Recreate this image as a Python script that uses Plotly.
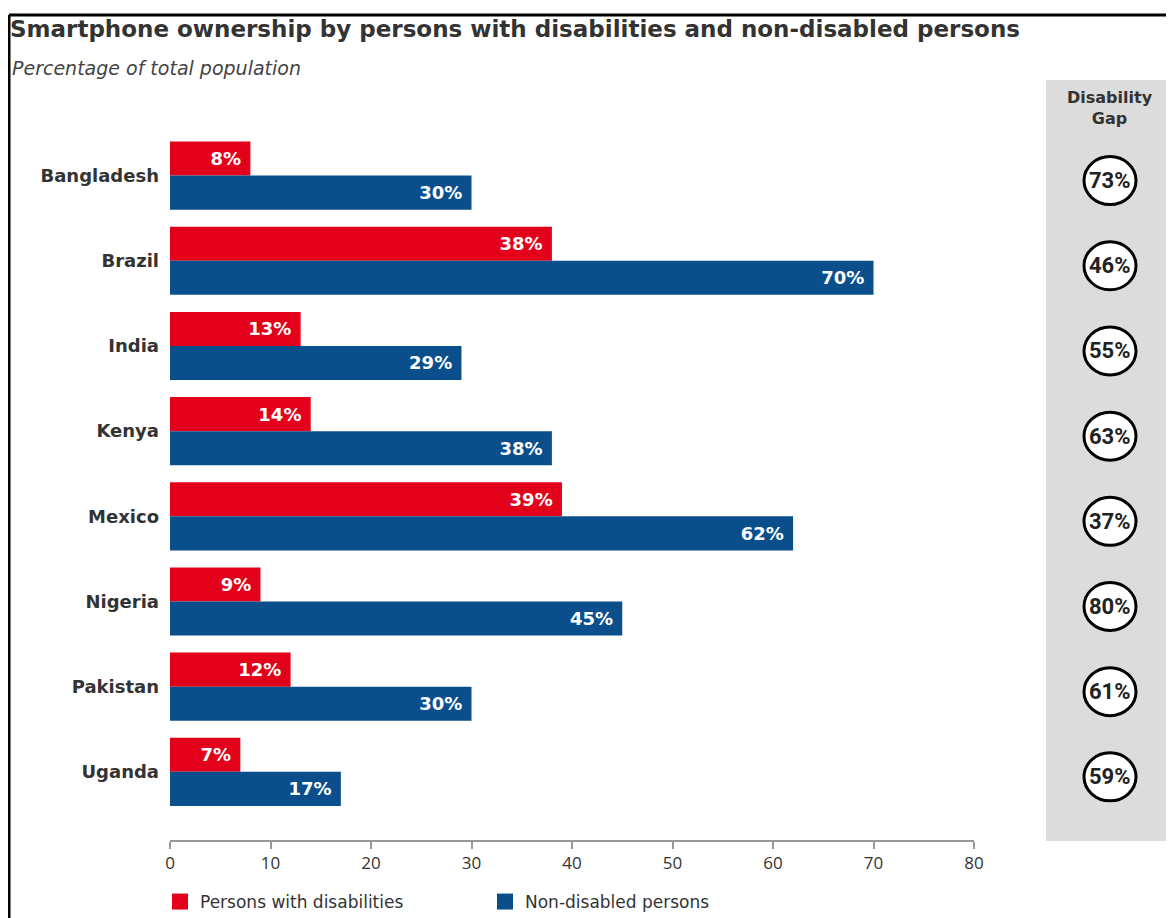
import plotly.graph_objects as go

countries = ["Bangladesh", "Brazil", "India", "Kenya", "Mexico", "Nigeria", "Pakistan", "Uganda"]
disabled = [8, 38, 13, 14, 39, 9, 12, 7]
non_disabled = [30, 70, 29, 38, 62, 45, 30, 17]
gap_labels = ["73%", "46%", "55%", "63%", "37%", "80%", "61%", "59%"]
x_ticks = [0, 10, 20, 30, 40, 50, 60, 70, 80]

# page body has an 8px margin; work in screen pixels
OFF = 8
W, H = 1174 - OFF, 918 - OFF
PL, PR, PT, PB = 170, 974, 133, 840          # plot area in screen pixels
ML, MR, MT, MB = PL - OFF, W - (PR - OFF), PT - OFF, H - (PB - OFF)
PW, PH = PR - PL, PB - PT


def px(x):
    return (x - PL) / PW


def py(y):
    return (PB - y) / PH


RED = "#e2001a"
BLUE = "#0a4f8c"
TXT = "#333333"
FONT = "DejaVu Sans"

fig = go.Figure()
fig.add_trace(go.Bar(
    y=countries, x=disabled, orientation="h", name="Persons with disabilities",
    marker=dict(color=RED, line=dict(width=0)), legendgroup="d", showlegend=False,
    texttemplate="%{x}%\u00a0", textposition="inside", insidetextanchor="end",
    textfont=dict(family=FONT, size=18, color="white", weight=700),
))
fig.add_trace(go.Bar(
    y=countries, x=non_disabled, orientation="h", name="Non-disabled persons",
    marker=dict(color=BLUE, line=dict(width=0)), legendgroup="n", showlegend=False,
    texttemplate="%{x}%\u00a0", textposition="inside", insidetextanchor="end",
    textfont=dict(family=FONT, size=18, color="white", weight=700),
))
# legend entries (large square swatches)
fig.add_trace(go.Scatter(x=[None], y=[None], mode="markers", name="Persons with disabilities",
                         legendgroup="d", marker=dict(symbol="square", size=24, color=RED)))
fig.add_trace(go.Scatter(x=[None], y=[None], mode="markers", name="Non-disabled persons",
                         legendgroup="n", marker=dict(symbol="square", size=24, color=BLUE)))

shapes = []
shapes.append(dict(type="rect", xref="paper", yref="paper",
                   x0=px(1046), x1=px(1180), y0=py(841), y1=py(80),
                   fillcolor="#dcdcdc", line=dict(width=0), layer="below"))
shapes.append(dict(type="line", xref="paper", yref="paper",
                   x0=px(9), x1=px(1180), y0=py(15), y1=py(15),
                   line=dict(color="black", width=3)))
shapes.append(dict(type="line", xref="paper", yref="paper",
                   x0=px(9), x1=px(9), y0=py(15), y1=py(925),
                   line=dict(color="black", width=3)))

unit = PH / 8.3
cx = px(1110)
rx = 26 / PW
ry = 24 / unit
off = 5 / unit
annotations = []
for i, lab in enumerate(gap_labels):
    shapes.append(dict(type="circle", xref="paper", yref="y",
                       x0=cx - rx, x1=cx + rx, y0=i + off - ry, y1=i + off + ry,
                       fillcolor="white", line=dict(color="black", width=3)))
    annotations.append(dict(xref="paper", yref="y", x=cx, y=countries[i], yshift=-5,
                            xanchor="center", yanchor="middle",
                            text=lab, showarrow=False,
                            font=dict(family="Roboto", size=22, color="#222222", weight=700)))

annotations.append(dict(xref="paper", yref="paper", x=cx, y=py(86), yanchor="top",
                        xanchor="center",
                        text="Disability<br>Gap", showarrow=False, align="center",
                        font=dict(family=FONT, size=16, color=TXT, weight=700)))
annotations.append(dict(xref="paper", yref="paper", x=px(10), y=py(68), xanchor="left",
                        yanchor="middle", text="Percentage of total population",
                        showarrow=False,
                        font=dict(family=FONT, size=19, color="#444444", style="italic")))

fig.update_layout(
    width=W, height=H,
    margin=dict(l=ML, r=MR, t=MT, b=MB, autoexpand=False),
    paper_bgcolor="white", plot_bgcolor="white",
    barmode="group", bargap=0.2, bargroupgap=0,
    title=dict(text="Smartphone ownership by persons with disabilities and non-disabled persons",
               x=(10 - OFF) / W, xanchor="left", xref="container",
               y=1 - (29 - OFF) / H, yanchor="middle", yref="container",
               font=dict(family=FONT, size=23, color=TXT, weight=700)),
    xaxis=dict(range=[0, 80], tickvals=x_ticks, showgrid=False, zeroline=False,
               showline=True, linecolor="#999999", linewidth=1.5,
               ticks="outside", ticklen=7, tickcolor="#999999", tickwidth=1.5,
               tickfont=dict(family="Open Sans", size=17, color=TXT)),
    yaxis=dict(range=[7.8, -0.5], showgrid=False, zeroline=False, showline=False,
               ticks="", ticklabelstandoff=10,
               tickfont=dict(family=FONT, size=18, color=TXT, weight=700)),
    showlegend=True,
    legend=dict(orientation="h", x=px(160), y=py(884), xanchor="left", yanchor="top",
                xref="paper", yref="paper", itemsizing="trace",
                font=dict(family=FONT, size=17, color=TXT),
                entrywidth=280, entrywidthmode="pixels", traceorder="normal"),
    shapes=shapes, annotations=annotations,
)

fig.write_html("out.html")
